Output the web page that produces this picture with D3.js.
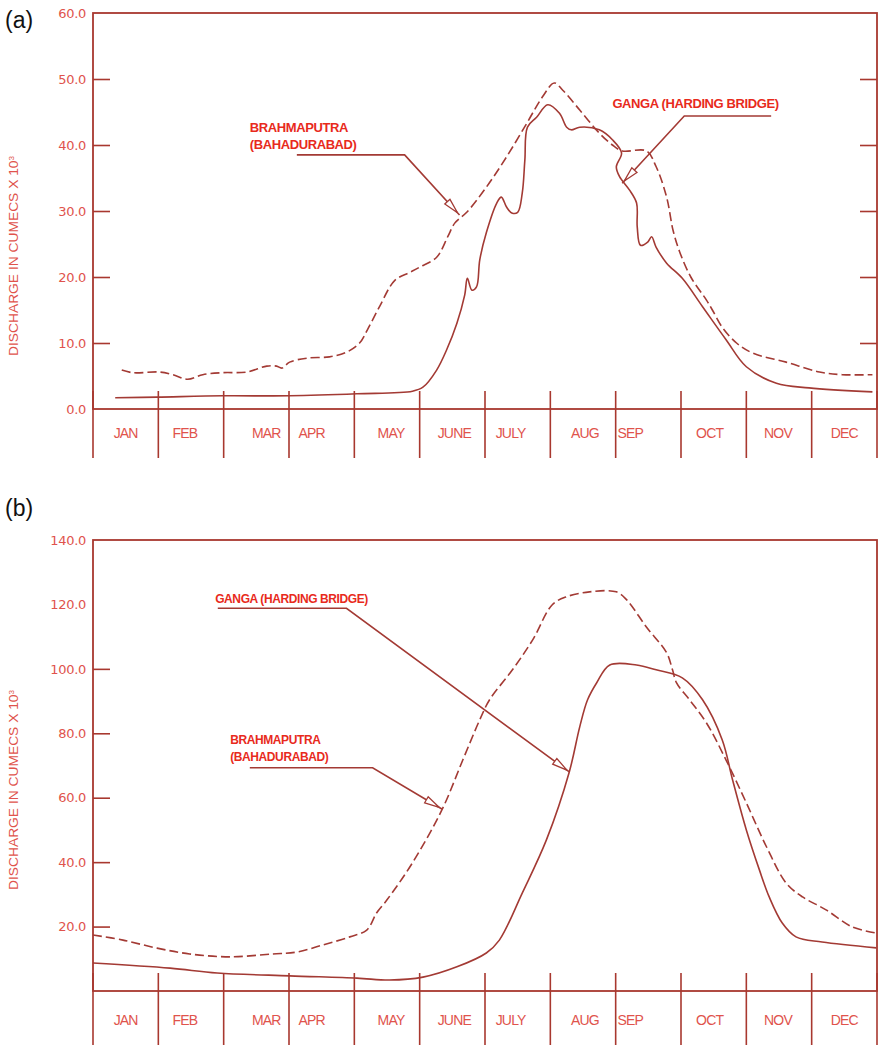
<!DOCTYPE html>
<html>
<head>
<meta charset="utf-8">
<script src="https://cdn.jsdelivr.net/npm/d3@7"></script>
<style>
  body { margin: 0; background: #fff; }
  svg { display: block; }
</style>
</head>
<body>
<div id="chart"></div>
<script>
// month names, month axis runs 0 (start of Jan) .. 12 (end of Dec)
var months = ["JAN", "FEB", "MAR", "APR", "MAY", "JUNE", "JULY", "AUG", "SEP", "OCT", "NOV", "DEC"];

var ticksA = [0, 10, 20, 30, 40, 50, 60];
var ticksB = [20, 40, 60, 80, 100, 120, 140];

// panel (a) - [month, discharge x10^3 cumecs]
var brahmaA = [[0.44, 5.9], [0.61, 5.5], [1.02, 5.6], [1.22, 5.2], [1.45, 4.5], [1.68, 5.2], [1.98, 5.5],
  [2.35, 5.6], [2.66, 6.5], [2.81, 6.5], [2.89, 6.2], [3.01, 7.1], [3.27, 7.7], [3.62, 7.9], [3.88, 8.6],
  [4.08, 10.0], [4.2, 12.0], [4.39, 15.6], [4.62, 19.5], [4.85, 20.7], [5.0, 21.5], [5.26, 23.0],
  [5.43, 26.1], [5.54, 28.2], [5.72, 29.8], [6.02, 33.6], [6.33, 38.2], [6.64, 43.3], [6.88, 47.3],
  [7.06, 49.4], [7.19, 48.3], [7.45, 45.3], [7.75, 41.8], [7.95, 40.0], [8.1, 39.1], [8.47, 39.1],
  [8.62, 36.7], [8.78, 32.1], [8.88, 27.0], [8.98, 23.8], [9.15, 20.0], [9.39, 16.5], [9.48, 15.0],
  [9.63, 12.4], [9.85, 10.0], [10.09, 8.5], [10.61, 7.1], [11.12, 5.6], [11.47, 5.2], [11.93, 5.2]];

var gangaA = [[0.34, 1.7], [0.98, 1.8], [1.99, 2.0], [3.01, 2.0], [4.04, 2.3], [4.89, 2.7], [5.05, 3.3],
  [5.26, 5.9], [5.41, 8.9], [5.57, 13.0], [5.69, 17.3], [5.73, 19.8], [5.8, 18.0], [5.87, 18.5],
  [5.92, 22.6], [6.02, 26.7], [6.18, 31.2], [6.25, 32.1], [6.33, 30.6], [6.41, 29.7], [6.5, 29.8],
  [6.57, 32.7], [6.61, 37.7], [6.65, 42.7], [6.79, 44.2], [6.96, 46.1], [7.14, 44.8], [7.25, 42.7],
  [7.32, 42.3], [7.45, 42.7], [7.75, 42.3], [7.95, 40.8], [8.09, 38.8], [8.01, 36.7], [8.06, 35.2],
  [8.21, 33.2], [8.32, 31.2], [8.33, 27.6], [8.38, 24.8], [8.49, 25.3], [8.55, 26.1], [8.62, 24.5],
  [8.78, 22.1], [9.02, 19.8], [9.33, 15.5], [9.69, 10.5], [10.0, 6.4], [10.46, 3.9], [10.96, 3.2],
  [11.93, 2.6]];

// panel (b)
var brahmaB = [[0.0, 17.4], [0.46, 15.8], [0.98, 13.3], [1.48, 11.5], [2.09, 10.6], [2.75, 11.5],
  [3.12, 12.1], [3.52, 14.3], [3.93, 16.8], [4.19, 18.9], [4.34, 24.2], [4.5, 28.3], [4.89, 39.8],
  [5.34, 56.2], [5.66, 71.7], [5.92, 84.2], [6.07, 90.4], [6.42, 99.7], [6.73, 109.0], [7.03, 119.9],
  [7.25, 122.4], [7.6, 123.9], [8.01, 123.9], [8.17, 121.4], [8.47, 113.0], [8.78, 105.0],
  [8.87, 99.7], [8.93, 95.7], [9.13, 90.4], [9.39, 83.2], [9.69, 71.7], [10.0, 58.4], [10.31, 44.7],
  [10.61, 33.5], [10.86, 29.2], [11.22, 25.2], [11.62, 19.9], [11.99, 18.0]];

var gangaB = [[0.0, 8.7], [1.18, 7.1], [1.9, 5.6], [3.01, 4.7], [4.04, 4.0], [4.54, 3.4], [5.05, 4.3],
  [5.57, 7.5], [6.02, 11.8], [6.22, 15.8], [6.57, 30.4], [6.94, 46.9], [7.29, 68.0], [7.45, 82.0],
  [7.57, 90.4], [7.71, 95.7], [7.91, 101.2], [8.32, 101.2], [8.62, 99.7], [9.02, 97.2], [9.33, 90.4],
  [9.63, 78.0], [9.79, 65.5], [10.0, 50.0], [10.2, 37.6], [10.35, 29.2], [10.55, 21.1], [10.76, 16.8],
  [11.16, 15.2], [11.99, 13.4]];

var axisColor = "#a8382f";
var curveColor = "#a33a34";
var tickColor = "#e0534c";
var noteColor = "#e82a1c";

// small nudges of the hand-lettered month names inside their cells
var monthShift = [0, -6, 10, -10, 4, 2, -7, 2, -18, -4, -1, 0];

var svgWidth = 879;
var svgHeight = 1045;

var svg = d3.select("#chart")
  .append("svg")
  .attr("width", svgWidth)
  .attr("height", svgHeight);

var x = d3.scaleLinear().domain([0, 12]).range([93, 877]);

function drawPanel(p) {
  var g = svg.append("g");
  var y = d3.scaleLinear().domain([0, p.max]).range([p.bottom, p.top]);

  // panel letter
  g.append("text")
    .attr("x", 5)
    .attr("y", p.top + p.letterDy)
    .attr("font-family", "Liberation Sans, Arial, sans-serif")
    .attr("font-size", 23)
    .attr("fill", "#111")
    .text(p.letter);

  // y axis, ticks pointing inwards
  var yAxis = d3.axisLeft(y)
    .tickValues(p.ticks)
    .tickSize(-17)
    .tickPadding(7)
    .tickFormat(d3.format(".1f"));

  var ya = g.append("g")
    .attr("transform", `translate(${x(0)},0)`)
    .call(yAxis);
  ya.select(".domain").remove();
  ya.selectAll(".tick line")
    .attr("stroke", axisColor)
    .attr("stroke-width", 1.6)
    .attr("opacity", d => p.marks.indexOf(d) >= 0 ? 1 : 0);
  ya.selectAll(".tick text")
    .attr("fill", tickColor)
    .attr("font-family", "DejaVu Sans, sans-serif")
    .attr("font-size", 13)
    .attr("letter-spacing", -0.3);

  if (p.rightMarks) {
    var yr = g.append("g")
      .attr("transform", `translate(${x(12)},0)`)
      .call(d3.axisRight(y).tickValues(p.rightMarks).tickSize(-17).tickFormat(""));
    yr.select(".domain").remove();
    yr.selectAll(".tick line").attr("stroke", axisColor).attr("stroke-width", 1.6);
  }

  // frame
  g.append("rect")
    .attr("x", x(0))
    .attr("y", p.top)
    .attr("width", x(12) - x(0))
    .attr("height", p.bottom - p.top)
    .attr("fill", "none")
    .attr("stroke", axisColor)
    .attr("stroke-width", 1.8);

  // month band
  g.selectAll(".divider")
    .data(d3.range(13))
    .enter()
    .append("line")
    .attr("x1", d => x(d))
    .attr("x2", d => x(d))
    .attr("y1", p.bottom - 18)
    .attr("y2", p.bandBottom)
    .attr("stroke", axisColor)
    .attr("stroke-width", 1.6);

  g.selectAll(".month")
    .data(months)
    .enter()
    .append("text")
    .attr("x", (d, i) => x(i + 0.5) + monthShift[i])
    .attr("y", p.bottom + p.monthDy)
    .attr("text-anchor", "middle")
    .attr("font-family", "Liberation Sans, Arial, sans-serif")
    .attr("font-size", 14)
    .attr("letter-spacing", -0.8)
    .attr("fill", tickColor)
    .text(d => d);

  // y title
  g.append("text")
    .attr("transform", `translate(18,${p.titleY}) rotate(-90)`)
    .attr("text-anchor", "middle")
    .attr("font-family", "Liberation Sans, Arial, sans-serif")
    .attr("font-size", 12)
    .attr("textLength", 200)
    .attr("lengthAdjust", "spacingAndGlyphs")
    .attr("fill", tickColor)
    .html("DISCHARGE IN CUMECS X 10<tspan dy='-4' font-size='7'>3</tspan>");

  // curves
  var line = d3.line()
    .x(d => x(d[0]))
    .y(d => y(d[1]))
    .curve(d3.curveCatmullRom.alpha(0.5));

  g.append("path")
    .datum(p.dashed)
    .attr("d", line)
    .attr("fill", "none")
    .attr("stroke", curveColor)
    .attr("stroke-width", 1.6)
    .attr("stroke-dasharray", "9,4");

  g.append("path")
    .datum(p.solid)
    .attr("d", line)
    .attr("fill", "none")
    .attr("stroke", curveColor)
    .attr("stroke-width", 1.6);

  // leader notes
  p.notes.forEach(function(n) {
    var lines = n.text;
    lines.forEach(function(t, i) {
      g.append("text")
        .attr("x", x(n.at[0]))
        .attr("y", y(n.at[1]) + i * 17)
        .attr("font-family", "Liberation Sans, Arial, sans-serif")
        .attr("font-weight", "bold")
        .attr("font-size", n.size)
        .attr("letter-spacing", -0.4)
        .attr("fill", noteColor)
        .text(t);
    });
    var pts = [[x(n.from[0]), y(n.from[1])], [x(n.elbow[0]), y(n.elbow[1])], [x(n.tip[0]), y(n.tip[1])]];
    g.append("polyline")
      .attr("points", pts.map(d => d.join(",")).join(" "))
      .attr("fill", "none")
      .attr("stroke", curveColor)
      .attr("stroke-width", 1.6);

    // open arrow head just short of the tip
    var e = pts[1], t = pts[2];
    var ang = Math.atan2(t[1] - e[1], t[0] - e[0]);
    var ux = Math.cos(ang), uy = Math.sin(ang);
    var hx = t[0] - ux * 3, hy = t[1] - uy * 3;
    var bx = hx - ux * 15, by = hy - uy * 15;
    var head = [[hx, hy], [bx - uy * 3.5, by + ux * 3.5], [bx + uy * 3.5, by - ux * 3.5]];
    g.append("polygon")
      .attr("points", head.map(d => d.join(",")).join(" "))
      .attr("fill", "#fff")
      .attr("stroke", curveColor)
      .attr("stroke-width", 1.3);
  });
}

drawPanel({
  letter: "(a)", letterDy: 15,
  top: 13, bottom: 409, bandBottom: 458, monthDy: 29, max: 60,
  ticks: ticksA, marks: [10, 20, 30, 40, 50], rightMarks: [10, 20, 30, 40, 50],
  titleY: 256,
  dashed: brahmaA, solid: gangaA,
  notes: [
    { text: ["BRAHMAPUTRA", "(BAHADURABAD)"], size: 13, at: [2.4, 42.0],
      from: [3.12, 38.5], elbow: [4.77, 38.5], tip: [5.61, 29.4] },
    { text: ["GANGA (HARDING BRIDGE)"], size: 13, at: [7.95, 45.6],
      from: [10.38, 44.4], elbow: [9.05, 44.4], tip: [8.1, 34.2] }
  ]
});

drawPanel({
  letter: "(b)", letterDy: -24,
  top: 540, bottom: 991, bandBottom: 1045, monthDy: 34, max: 140,
  ticks: ticksB, marks: [20, 40, 60, 80, 100], rightMarks: null,
  titleY: 790,
  dashed: brahmaB, solid: gangaB,
  notes: [
    { text: ["GANGA (HARDING BRIDGE)"], size: 12, at: [1.87, 120.5],
      from: [1.91, 118.8], elbow: [3.88, 118.8], tip: [7.29, 68.0] },
    { text: ["BRAHMAPUTRA", "(BAHADURABAD)"], size: 12, at: [2.1, 76.8],
      from: [2.4, 69.3], elbow: [4.28, 69.3], tip: [5.34, 56.5] }
  ]
});
</script>
</body>
</html>
